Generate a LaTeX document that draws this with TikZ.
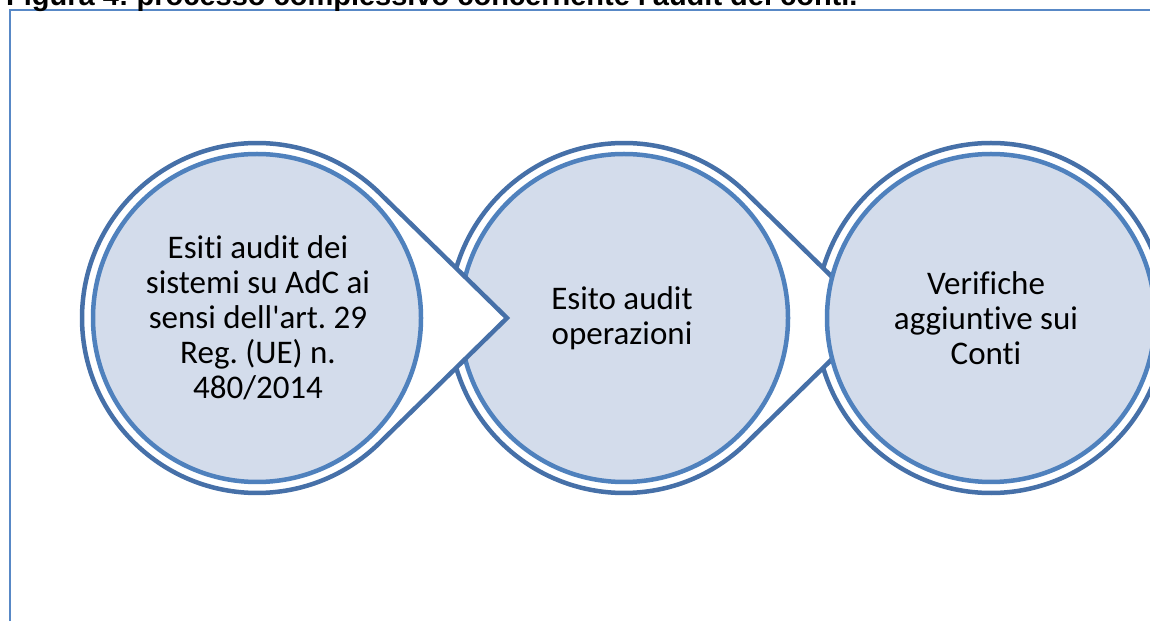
\documentclass[tikz,border=0pt]{standalone}
\usepackage{fontspec}
\usepackage{xcolor}
\usetikzlibrary{positioning}
\newfontfamily\carlito{Carlito}[Ligatures={NoCommon}]
\newfontfamily\arialfont{Liberation Sans}
\definecolor{ringblue}{RGB}{70,112,168}
\definecolor{discblue}{RGB}{79,129,189}
\definecolor{discfill}{RGB}{211,220,235}
\definecolor{frameblue}{RGB}{88,136,198}
\frenchspacing
\tikzset{
	ring/.style={draw=ringblue, line width=4.5, fill=white},
	disc/.style={draw=discblue, line width=4.5, fill=discfill},
	label/.style={align=center, font=\carlito\fontsize{33}{35}\selectfont, inner sep=0}
}

\begin{document}
\begin{tikzpicture}[x=1pt, y=1pt]
		\def\R{175}
		\def\r{164}
		\def\TIP{250}
		\def\CY{303}
		\pgfmathsetmacro\ANG{acos(\R/\TIP)}
		\useasboundingbox (0,0) rectangle (1150,621);
		\draw[frameblue, line width=1.2] (10,0) -- (10,611) -- (1150,611);
		\node[anchor=base west, inner sep=0, font=\arialfont\bfseries\fontsize{29}{34}\selectfont] (title) at (6,615.5) {Figura 4: processo complessivo concernente l'audit dei conti.};
		% last step first, so each arrow lies over the next circle
		\draw[ring] (991,\CY) circle[radius=\R];
		\foreach \cx in {624,257} {
			\draw[ring] (\cx,\CY) ++(\ANG:\R) arc[start angle=\ANG, end angle=360-\ANG, radius=\R] -- (\cx+\TIP,\CY) -- cycle;
			\draw[disc] (\cx,\CY) circle[radius=\r];
		}
		\draw[disc] (991,\CY) circle[radius=\r];
		\node[label] (esiti) at (258,\CY) {Esiti audit dei\\sistemi su AdC ai\\sensi dell'art. 29\\Reg. (UE) n.\\480/2014};
		\node[label] (esito) at (622,\CY) {Esito audit\\operazioni};
		\node[label] (verifiche) at (986,\CY) {Verifiche\\aggiuntive sui\\Conti};
	\end{tikzpicture}
\end{document}
